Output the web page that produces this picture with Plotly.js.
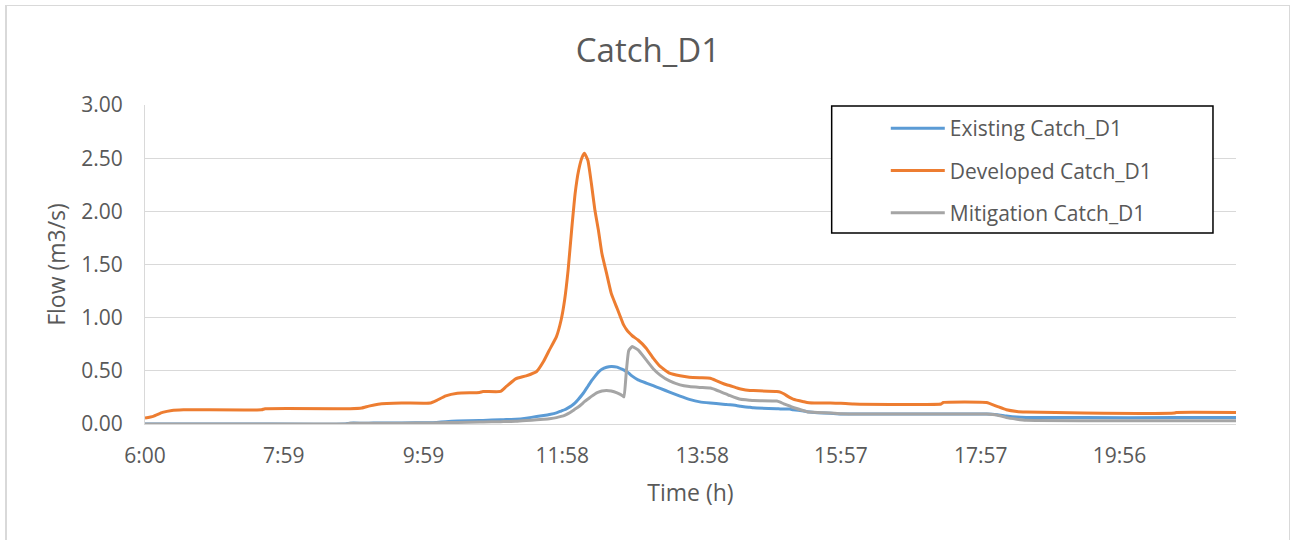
<!DOCTYPE html>
<html>
<head>
<meta charset="utf-8">
<script src="https://cdn.plot.ly/plotly-3.0.1.min.js"></script>
<style>
  html, body { margin: 0; padding: 0; background: #ffffff; }
  #chart { position: absolute; left: 0; top: 0; width: 1292px; height: 540px; }
  #frame {
    position: absolute; left: 5px; top: 5px; width: 1285px; height: 560px;
    box-sizing: border-box; border: 1px solid #d9d9d9; border-left-width: 2px;
    pointer-events: none;
  }
</style>
</head>
<body>
<div id="chart"></div>
<div id="frame"></div>
<script>
// Clock times of the hydrograph samples
const times = [
  "6:00","6:07","6:15","6:23","6:33","7:40","7:43","8:52","8:56","9:06",
  "9:12","9:20","9:40","10:05","10:10","10:18","10:28","10:47","10:50","11:05",
  "11:10","11:18","11:27","11:36","11:42","11:47","11:53","11:57","12:00","12:03",
  "12:06","12:09","12:12","12:15","12:17","12:20","12:23","12:26","12:29","12:32",
  "12:36","12:40","12:45","12:50","12:51","12:53","12:55","12:58","13:03","13:10",
  "13:16","13:22","13:30","13:39","13:47","13:56","14:05","14:10","14:14","14:19",
  "14:22","14:28","14:31","14:39","14:42","15:02","15:05","15:08","15:13","15:16",
  "15:25","15:28","15:37","15:48","15:57","16:08","17:23","17:25","18:02","18:11",
  "18:19","18:28","18:36","19:25","20:43","20:45","21:36"
];

// Flow (m3/s) for each scenario
const existing = [
  0, 0, 0, 0, 0, 0, 0, 0, 0.008, 0.008,
  0.008, 0.009, 0.010, 0.012, 0.015, 0.022, 0.028, 0.032, 0.033, 0.040,
  0.042, 0.045, 0.055, 0.070, 0.080, 0.090, 0.105, 0.122, 0.134, 0.152,
  0.172, 0.198, 0.235, 0.275, 0.305, 0.355, 0.405, 0.448, 0.488, 0.515,
  0.534, 0.541, 0.535, 0.512, 0.507, 0.494, 0.478, 0.450, 0.415, 0.385,
  0.360, 0.335, 0.300, 0.262, 0.232, 0.208, 0.197, 0.192, 0.188, 0.184,
  0.180, 0.172, 0.166, 0.157, 0.152, 0.143, 0.142, 0.141, 0.140, 0.135,
  0.122, 0.116, 0.106, 0.100, 0.094, 0.094, 0.094, 0.094, 0.094, 0.088,
  0.075, 0.065, 0.062, 0.060, 0.060, 0.060, 0.060
];

const developed = [
  0.056, 0.072, 0.109, 0.128, 0.134, 0.134, 0.144, 0.144, 0.144, 0.150,
  0.168, 0.186, 0.197, 0.197, 0.220, 0.265, 0.290, 0.297, 0.306, 0.306,
  0.353, 0.425, 0.453, 0.494, 0.590, 0.697, 0.822, 0.978, 1.166, 1.447,
  1.822, 2.166, 2.384, 2.509, 2.547, 2.478, 2.259, 2.009, 1.822, 1.603,
  1.416, 1.228, 1.088, 0.947, 0.925, 0.890, 0.862, 0.830, 0.790, 0.713,
  0.619, 0.541, 0.478, 0.453, 0.440, 0.435, 0.431, 0.409, 0.390, 0.369,
  0.360, 0.338, 0.330, 0.316, 0.314, 0.306, 0.300, 0.284, 0.250, 0.234,
  0.210, 0.203, 0.197, 0.197, 0.195, 0.188, 0.188, 0.203, 0.203, 0.166,
  0.134, 0.118, 0.113, 0.103, 0.103, 0.109, 0.109
];

const mitigation = [
  0, 0, 0, 0, 0, 0, 0, 0, 0.006, 0.006,
  0.006, 0.007, 0.008, 0.010, 0.011, 0.013, 0.015, 0.018, 0.019, 0.022,
  0.023, 0.025, 0.032, 0.040, 0.045, 0.050, 0.060, 0.072, 0.082, 0.098,
  0.118, 0.140, 0.162, 0.190, 0.210, 0.235, 0.260, 0.283, 0.300, 0.311,
  0.316, 0.310, 0.292, 0.264, 0.255, 0.500, 0.690, 0.728, 0.697, 0.603,
  0.520, 0.460, 0.405, 0.368, 0.352, 0.344, 0.338, 0.320, 0.302, 0.280,
  0.266, 0.242, 0.232, 0.223, 0.220, 0.216, 0.205, 0.190, 0.170, 0.155,
  0.125, 0.115, 0.108, 0.103, 0.096, 0.094, 0.094, 0.094, 0.094, 0.085,
  0.060, 0.045, 0.035, 0.031, 0.031, 0.031, 0.031
];

// Time-axis labels
const tickLabels = ["6:00","7:59","9:59","11:58","13:58","15:57","17:57","19:56"];

const seriesNames = ["Existing Catch_D1", "Developed Catch_D1", "Mitigation Catch_D1"];
const seriesColors = ["#5b9bd5", "#ed7d31", "#a5a5a5"];

// Minutes elapsed since 6:00
function toMinutes(clock) {
  const [h, m] = clock.split(":").map(Number);
  return (h - 6) * 60 + m;
}

const x = times.map(toMinutes);
const tickVals = tickLabels.map(toMinutes);

const textColor = "#595959";
const fontFamily = "'Open Sans', 'Noto Sans', sans-serif";

const traces = [existing, developed, mitigation].map((ys, i) => ({
  type: "scatter",
  mode: "lines",
  x: x,
  y: ys,
  name: seriesNames[i],
  legendgroup: "g" + i,
  line: { color: seriesColors[i], width: 3, shape: "spline", smoothing: 0.4 },
  hoverinfo: "skip"
}));

const layout = {
  width: 1292,
  height: 540,
  margin: { l: 145, r: 56, t: 105, b: 116 },
  paper_bgcolor: "rgba(0,0,0,0)",
  plot_bgcolor: "rgba(0,0,0,0)",
  font: { family: fontFamily, color: textColor, size: 21 },
  title: {
    text: "Catch_D1",
    font: { family: fontFamily, size: 33, color: textColor },
    x: 0.5015, xref: "container", xanchor: "center",
    y: 0.907, yref: "container", yanchor: "middle"
  },
  xaxis: {
    range: [0, x[x.length - 1]],
    tickmode: "array",
    tickvals: tickVals,
    ticktext: tickLabels,
    ticks: "",
    ticklabelstandoff: 13,
    showgrid: false,
    zeroline: false,
    showline: true,
    linecolor: "#d9d9d9",
    linewidth: 1,
    tickfont: { size: 21, color: textColor },
    title: { text: "Time (h)", font: { size: 23, color: textColor }, standoff: 16 },
    automargin: false
  },
  yaxis: {
    range: [0, 3],
    dtick: 0.5,
    tick0: 0,
    tickformat: ".2f",
    ticks: "",
    ticklabelstandoff: 17,
    showgrid: true,
    gridcolor: "#d9d9d9",
    gridwidth: 1,
    zeroline: false,
    showline: true,
    linecolor: "#d9d9d9",
    linewidth: 1,
    tickfont: { size: 21, color: textColor },
    title: { text: "Flow (m3/s)", font: { size: 23, color: textColor }, standoff: 9 },
    automargin: false
  },
  showlegend: true,
  legend: {
    x: 0.679, y: 0.9905, xanchor: "left", yanchor: "top",
    bgcolor: "rgba(0,0,0,0)",
    borderwidth: 0,
    itemwidth: 54,
    tracegroupgap: 12,
    font: { size: 21, color: textColor },
    traceorder: "grouped"
  },
  shapes: [{
    type: "rect", xref: "paper", yref: "paper", layer: "above",
    x0: 0.6294, x1: 0.9789, y0: 0.5987, y1: 0.9969,
    fillcolor: "#ffffff",
    line: { color: "#000000", width: 1.5 }
  }]
};

Plotly.newPlot("chart", traces, layout, { staticPlot: true, displayModeBar: false }).then(gd => {
  // longer legend line samples
  gd.querySelectorAll(".legend .legendlines path").forEach(p => p.setAttribute("d", "M5,0h54"));
});
</script>
</body>
</html>
